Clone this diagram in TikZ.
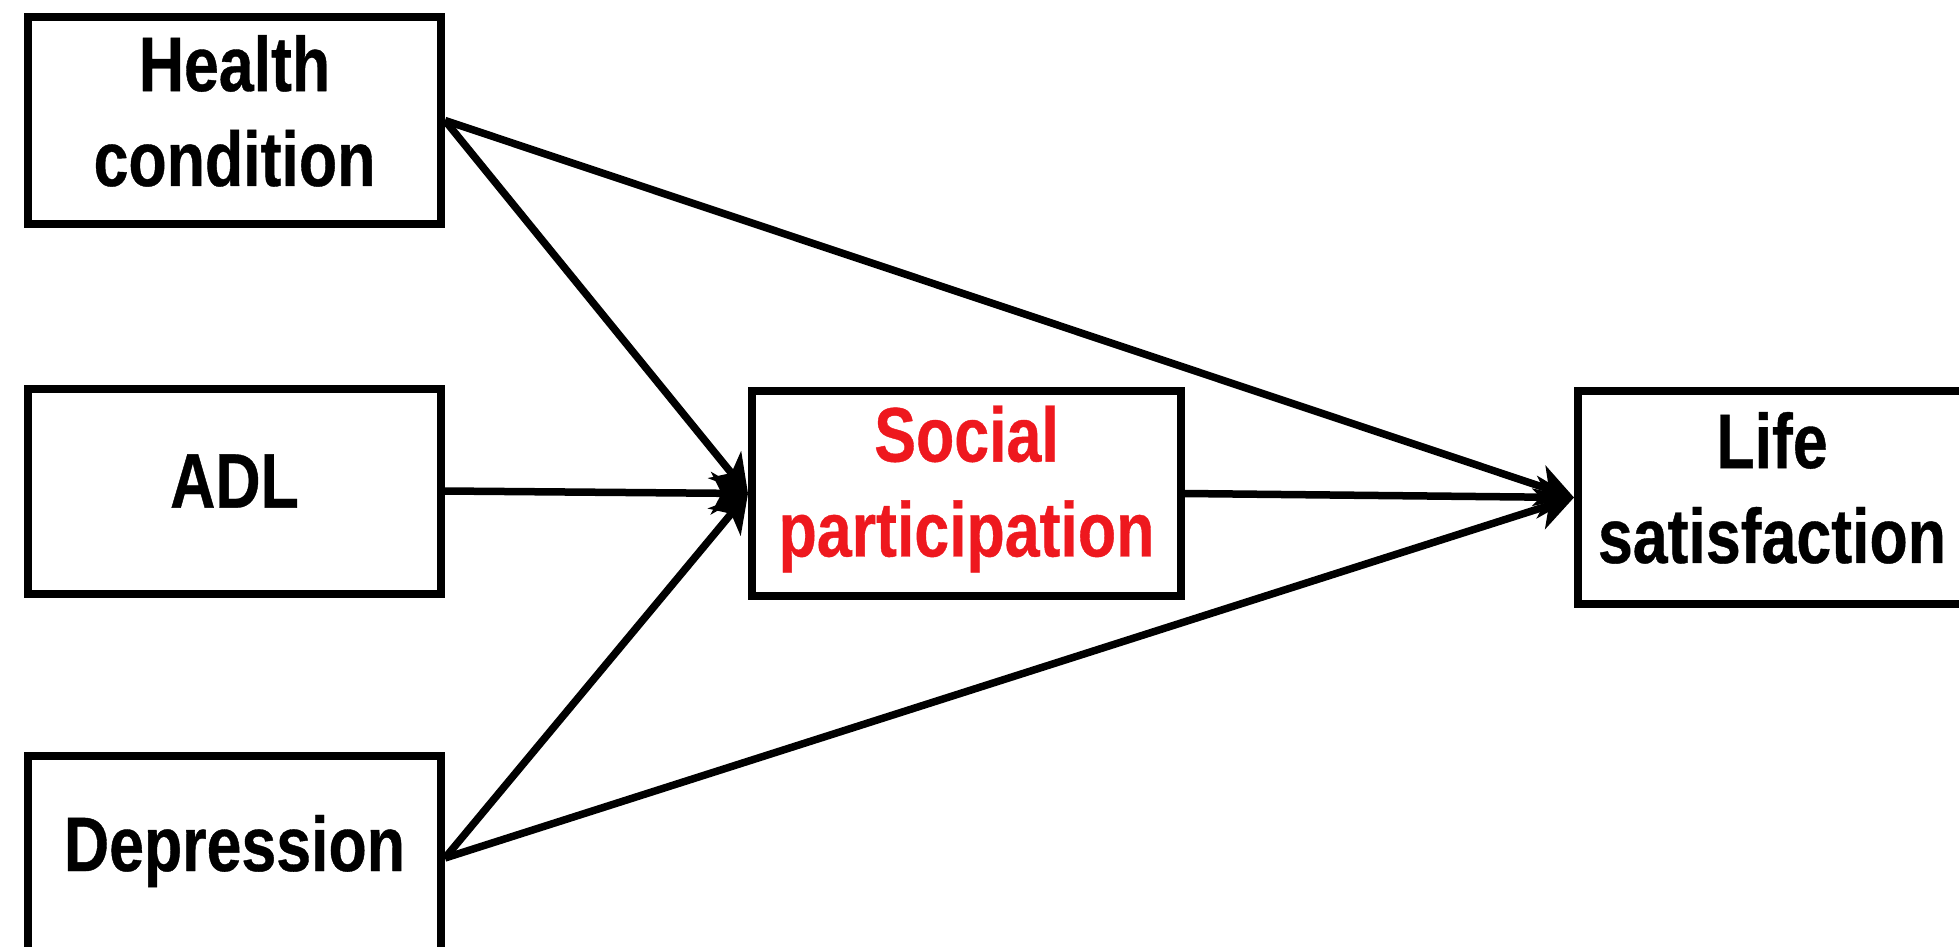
\documentclass[tikz,border=0pt]{standalone}
\usepackage{fontspec}
\newfontfamily\boxfont[FakeStretch=0.81,BoldFeatures={FakeBold=0.5}]{Liberation Sans}
\usetikzlibrary{arrows.meta}
\definecolor{spred}{RGB}{238,24,30}
\tikzset{
	box/.style={draw,line width=0.08cm,minimum height=2.05cm,inner sep=0pt,align=center,text depth=0.2cm,
		font=\boxfont\bfseries\fontsize{22}{27}\selectfont},
	arr/.style={line width=0.075cm,-{Stealth[length=10.5pt,width=12pt,inset=3pt]}}
}
\begin{document}
\begin{tikzpicture}
			\useasboundingbox (0,0) rectangle (19.59,-9.46);
			\node[box,minimum width=4.13cm,minimum height=2.07cm] (health) at (2.345,-1.205) {Health\\condition};
			\node[box,minimum width=4.13cm] (adl) at (2.345,-4.91) {ADL};
			\node[box,minimum width=4.13cm,text depth=0.3cm] (dep) at (2.345,-8.58) {Depression};
			\node[box,minimum width=4.29cm,text=spred,text depth=0.25cm] (social) at (9.665,-4.935) {Social\\participation};
			\node[box,minimum width=3.88cm,minimum height=2.13cm] (life) at (17.72,-4.975) {Life\\satisfaction};
			\draw[arr] (health.east) -- (social.west);
			\draw[arr] (adl.east) -- (social.west);
			\draw[arr] (dep.east) -- (social.west);
			\draw[arr] (health.east) -- (life.west);
			\draw[arr] (dep.east) -- (life.west);
			\draw[arr] (social.east) -- (life.west);
\end{tikzpicture}
\end{document}
